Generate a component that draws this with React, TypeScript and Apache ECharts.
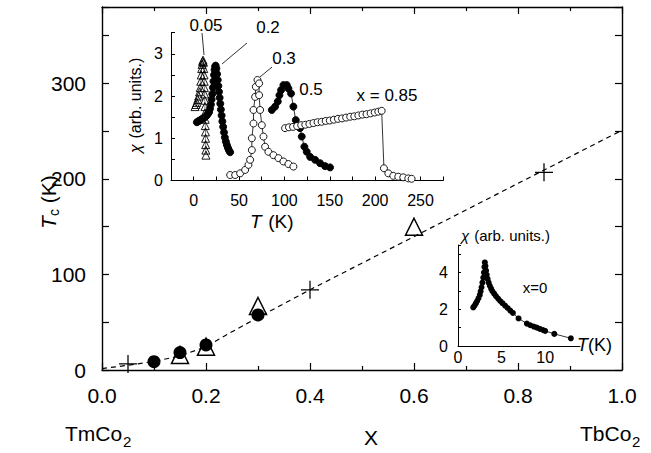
import React, { useEffect, useRef } from "react";
import * as echarts from "echarts";

// ---------- main panel data: Tc (K) versus x ----------
const fitX = [0, 0.05, 0.1, 0.15, 0.2, 0.25, 0.3, 0.4, 1.0];
const fitY = [1.5, 4.9, 9, 14.7, 24.4, 40, 55, 84, 251];
const plusX = [0.05, 0.4, 0.85];
const plusY = [6.3, 84, 207];
const triX = [0.15, 0.2, 0.3, 0.6];
const triY = [15.7, 24.4, 67, 150];
const dotX = [0.1, 0.15, 0.2, 0.3];
const dotY = [8.7, 18.2, 26.2, 57.6];
const mainXTicks = [0, 0.2, 0.4, 0.6, 0.8, 1.0];
const mainYTicks = [0, 100, 200, 300];

// ---------- upper inset: chi versus T ----------
const x005T = [1.5, 2.5, 3.5, 4.5, 5.5, 6.5, 7.2, 7.8, 8.3, 8.8, 9.3, 9.8, 10.3, 10.8, 11.1, 11.4, 11.6, 11.8, 12, 12.2, 12.4, 12.5, 12.7, 12.8, 13, 13.1, 13.2, 13.4, 13.5];
const x005C = [1.75, 1.8, 1.85, 1.92, 2.0, 2.1, 2.2, 2.35, 2.5, 2.65, 2.75, 2.82, 2.85, 2.8, 2.65, 2.5, 2.35, 2.2, 2.05, 1.9, 1.75, 1.6, 1.45, 1.3, 1.15, 1.0, 0.85, 0.72, 0.6];
const x02T = [3.5, 5, 6.5, 8, 9.5, 11, 12.5, 14, 15.5, 17, 18, 19, 19.8, 20.5, 21.2, 21.8, 22.4, 23, 23.6, 24.2, 25, 25.8, 26.5, 27.2, 27.9, 28.6, 29.3, 30, 30.8, 31.6, 32.5, 33.4, 34.4, 35.5, 36.6, 37.8, 39, 40.2];
const x02C = [1.38, 1.4, 1.42, 1.44, 1.46, 1.48, 1.5, 1.53, 1.57, 1.62, 1.7, 1.8, 1.92, 2.05, 2.2, 2.35, 2.5, 2.62, 2.7, 2.72, 2.65, 2.52, 2.38, 2.24, 2.1, 1.96, 1.82, 1.68, 1.54, 1.4, 1.27, 1.14, 1.02, 0.92, 0.84, 0.77, 0.71, 0.67];
const x03T = [40.2, 45.7, 51.2, 56.7, 60.4, 62.2, 64.1, 64.1, 65.9, 65.9, 67.7, 68.5, 70.3, 72.1, 72.1, 73.2, 75.1, 76.9, 78.7, 82.4, 87.9, 93.4, 98.9, 104.4, 109.9];
const x03C = [0.13, 0.13, 0.17, 0.25, 0.37, 0.49, 0.72, 1.0, 1.35, 1.67, 1.98, 2.22, 2.38, 2.3, 2.02, 1.67, 1.31, 1.04, 0.8, 0.68, 0.6, 0.53, 0.45, 0.39, 0.33];
const x05T = [86.1, 89.7, 92.7, 94.5, 96.3, 98.9, 102.6, 104.4, 107.3, 109.9, 112.5, 117.2, 119.1, 122, 124.6, 128.3, 133.8, 139.3, 144.8, 150.3];
const x05C = [1.67, 1.75, 1.87, 2.02, 2.14, 2.26, 2.26, 2.18, 2.06, 1.75, 1.43, 1.24, 1.04, 0.8, 0.68, 0.56, 0.49, 0.41, 0.34, 0.31];
const x085T = [100.7, 105, 109.5, 114, 118.5, 123, 127.5, 132, 136.5, 141, 145.5, 150, 154.5, 159, 163.5, 168, 172.5, 177, 181.5, 186, 190.5, 195, 199.5, 203.5, 207.2, 209.7, 214.5, 220, 225.5, 231, 236.5, 240.2];
const x085C = [1.24, 1.26, 1.27, 1.29, 1.31, 1.32, 1.34, 1.36, 1.38, 1.39, 1.41, 1.42, 1.44, 1.46, 1.47, 1.49, 1.51, 1.52, 1.54, 1.56, 1.57, 1.59, 1.61, 1.63, 1.65, 0.29, 0.17, 0.11, 0.09, 0.075, 0.05, 0.04];

// ---------- lower inset: chi versus T for x = 0 ----------
const x0T = [1.75, 1.9, 2.05, 2.2, 2.35, 2.5, 2.6, 2.7, 2.8, 2.9, 2.97, 3.03, 3.08, 3.15, 3.22, 3.3, 3.4, 3.52, 3.65, 3.8, 3.95, 4.15, 4.35, 4.6, 4.85, 5.1, 5.4, 5.7, 6.0, 6.3, 6.95, 7.9, 8.3, 8.7, 9.05, 9.4, 9.75, 10.0, 11.05, 12.95];
const x0C = [2.1, 2.2, 2.32, 2.45, 2.6, 2.78, 2.98, 3.2, 3.45, 3.72, 4.0, 4.3, 4.55, 4.35, 4.1, 3.88, 3.65, 3.45, 3.28, 3.12, 2.98, 2.85, 2.72, 2.58, 2.45, 2.33, 2.2, 2.07, 1.93, 1.8, 1.5, 1.22, 1.13, 1.06, 1.0, 0.93, 0.87, 0.82, 0.66, 0.42];

const zip = (a: number[], b: number[]) => a.map((v, i) => [v, b[i]]);

const FONT = "Liberation Sans, Arial, sans-serif";
const BLACK = "#000";
const mkLine = (w: number) => ({ show: true, onZero: false, lineStyle: { color: BLACK, width: w } });
const tickStyle = { color: BLACK, width: 1.2 };
const PLUS = "path://M0,9.3H20V10.7H0Z M9.3,0H10.7V20H9.3Z";

export default function App() {
  const ref = useRef<HTMLDivElement>(null);
  useEffect(() => {
    if (!ref.current) return;
    const chart = echarts.init(ref.current, undefined, { renderer: "svg" });
    const near = (v: number, list: number[]) => list.some((t) => Math.abs(t - v) < 1e-6);

    const insetLine = (name: string, d: number[][], symbol: string, fill: string, size: number, lw: number) => ({
      name,
      type: "line",
      xAxisIndex: 1,
      yAxisIndex: 1,
      data: d,
      symbol,
      symbolSize: size,
      showSymbol: true,
      silent: true,
      lineStyle: { color: BLACK, width: lw },
      itemStyle: { color: fill, borderColor: BLACK, borderWidth: 0.9, opacity: 1 },
      z: 5,
    });

    const option: any = {
      animation: false,
      backgroundColor: "#fff",
      textStyle: { fontFamily: FONT, color: BLACK },
      grid: [
        { left: 102, top: 7, width: 520, height: 363 },
        { left: 171, top: 32.7, width: 272.2, height: 147.8 },
        { left: 458, top: 245, width: 122, height: 101 },
        { left: 102, top: 7, width: 520, height: 363 },
      ],
      xAxis: [
        {
          gridIndex: 0, type: "value", min: 0, max: 1, interval: 0.2, position: "bottom",
          axisLine: mkLine(1.4), splitLine: { show: false },
          axisTick: { show: true, inside: true, length: 7, lineStyle: tickStyle },
          minorTick: { show: true, splitNumber: 2, length: 4, lineStyle: tickStyle },
          axisLabel: { fontSize: 21, fontFamily: FONT, color: BLACK, margin: 15,
            formatter: (v: number) => (near(v, mainXTicks) ? v.toFixed(1) : "") },
        },
        {
          gridIndex: 1, type: "value", min: -25, max: 275, interval: 25, position: "bottom",
          axisLine: mkLine(1), splitLine: { show: false },
          axisTick: { show: true, inside: true, length: 4, lineStyle: { color: BLACK, width: 1 } },
          axisLabel: { fontSize: 16, fontFamily: FONT, color: BLACK, margin: 12, showMinLabel: true, showMaxLabel: true,
            formatter: (v: number) => (v >= 0 && v <= 250 && Math.round(v) % 50 === 0 ? String(v) : "") },
        },
        {
          gridIndex: 2, type: "value", min: 0, max: 14, interval: 5, position: "bottom",
          axisLine: mkLine(1), splitLine: { show: false },
          axisTick: { show: false },
          axisLabel: { fontSize: 16, fontFamily: FONT, color: BLACK, margin: 3,
            formatter: (v: number) => (v % 5 === 0 ? String(v) : "") },
        },
        {
          gridIndex: 3, type: "value", min: 0, max: 1, interval: 0.2, position: "top",
          axisLine: mkLine(1.4), splitLine: { show: false },
          axisTick: { show: true, inside: true, length: 7, lineStyle: tickStyle },
          minorTick: { show: true, splitNumber: 2, length: 4, lineStyle: tickStyle },
          axisLabel: { show: false },
        },
      ],
      yAxis: [
        {
          gridIndex: 0, type: "value", min: 0, max: 380, interval: 50, position: "left",
          axisLine: mkLine(1.4), splitLine: { show: false },
          axisTick: { show: true, inside: true, length: 7, lineStyle: tickStyle },
          axisLabel: { fontSize: 21, fontFamily: FONT, color: BLACK, margin: 16,
            formatter: (v: number) => (near(v, mainYTicks) ? String(v) : "") },
        },
        {
          gridIndex: 1, type: "value", min: 0, max: 3.5, interval: 0.5, position: "left",
          axisLine: mkLine(1), splitLine: { show: false },
          axisTick: { show: true, inside: true, length: 4, lineStyle: { color: BLACK, width: 1 } },
          axisLabel: { fontSize: 16, fontFamily: FONT, color: BLACK, margin: 8,
            formatter: (v: number) => (Math.abs(v - Math.round(v)) < 1e-6 ? String(Math.round(v)) : "") },
        },
        {
          gridIndex: 2, type: "value", min: 0, max: 5.5, interval: 1, position: "left",
          axisLine: mkLine(1), splitLine: { show: false },
          axisTick: { show: true, inside: true, length: 3, lineStyle: { color: BLACK, width: 1 } },
          axisLabel: { fontSize: 16, fontFamily: FONT, color: BLACK, margin: 10,
            formatter: (v: number) => (Math.round(v) % 2 === 0 && Math.abs(v - Math.round(v)) < 1e-6 ? String(v) : "") },
        },
        {
          gridIndex: 3, type: "value", min: 0, max: 380, interval: 50, position: "right",
          axisLine: mkLine(1.4), splitLine: { show: false },
          axisTick: { show: true, inside: true, length: 7, lineStyle: tickStyle },
          axisLabel: { show: false },
        },
      ],
      series: [
        {
          name: "fit", type: "line", xAxisIndex: 0, yAxisIndex: 0, data: zip(fitX, fitY),
          showSymbol: false, symbol: "none", silent: true,
          lineStyle: { color: BLACK, width: 1.2, type: [5, 4] }, z: 1,
        },
        {
          name: "plus", type: "scatter", xAxisIndex: 0, yAxisIndex: 0, data: zip(plusX, plusY),
          symbol: PLUS, symbolSize: 18, silent: true, itemStyle: { color: BLACK, opacity: 1 }, z: 2,
        },
        {
          name: "triangles", type: "scatter", xAxisIndex: 0, yAxisIndex: 0, data: zip(triX, triY),
          symbol: "triangle", symbolSize: 17, silent: true,
          itemStyle: { color: "rgba(0,0,0,0)", borderColor: BLACK, borderWidth: 1.5, opacity: 1 }, z: 3,
        },
        {
          name: "dots", type: "scatter", xAxisIndex: 0, yAxisIndex: 0, data: zip(dotX, dotY),
          symbol: "circle", symbolSize: 13, silent: true, itemStyle: { color: BLACK, opacity: 1 }, z: 4,
        },
        insetLine("0.05", zip(x005T, x005C), "triangle", "rgba(0,0,0,0)", 8, 0.5),
        insetLine("0.2", zip(x02T, x02C), "circle", BLACK, 7, 0.8),
        insetLine("0.3", zip(x03T, x03C), "circle", "#fff", 7, 0.8),
        insetLine("0.5", zip(x05T, x05C), "circle", BLACK, 7, 0.8),
        insetLine("0.85", zip(x085T, x085C), "circle", "#fff", 7, 0.8),
        {
          name: "x0", type: "line", xAxisIndex: 2, yAxisIndex: 2, data: zip(x0T, x0C),
          symbol: "circle", symbolSize: 6, showSymbol: true, silent: true,
          lineStyle: { color: BLACK, width: 0.8 }, itemStyle: { color: BLACK, opacity: 1 }, z: 5,
        },
      ],
      graphic: [
        // main axis titles
        {
          type: "group", x: 48, y: 201, rotation: Math.PI / 2,
          children: [
            { type: "text", x: -28, y: 0, style: { text: "T", font: `italic 21px ${FONT}`, fill: BLACK, verticalAlign: "middle", align: "left" } },
            { type: "text", x: -15, y: 6, style: { text: "c", font: `14px ${FONT}`, fill: BLACK, verticalAlign: "middle", align: "left" } },
            { type: "text", x: -8, y: 0, style: { text: " (K)", font: `21px ${FONT}`, fill: BLACK, verticalAlign: "middle", align: "left" } },
          ],
        },
        { type: "text", x: 371, y: 437, style: { text: "X", font: `21px ${FONT}`, fill: BLACK, align: "center", verticalAlign: "middle" } },
        { type: "text", x: 65, y: 433, style: { text: "TmCo", font: `21px ${FONT}`, fill: BLACK, align: "left", verticalAlign: "middle" } },
        { type: "text", x: 123, y: 441, style: { text: "2", font: `15px ${FONT}`, fill: BLACK, align: "left", verticalAlign: "middle" } },
        { type: "text", x: 580, y: 433, style: { text: "TbCo", font: `21px ${FONT}`, fill: BLACK, align: "left", verticalAlign: "middle" } },
        { type: "text", x: 632, y: 441, style: { text: "2", font: `15px ${FONT}`, fill: BLACK, align: "left", verticalAlign: "middle" } },
        // upper inset titles
        {
          type: "group", x: 135, y: 106, rotation: Math.PI / 2,
          children: [
            { type: "text", x: -47, y: 0, style: { text: "χ", font: `italic 16px ${FONT}`, fill: BLACK, verticalAlign: "middle", align: "left" } },
            { type: "text", x: -37, y: 0, style: { text: " (arb. units.)", font: `16px ${FONT}`, fill: BLACK, verticalAlign: "middle", align: "left" } },
          ],
        },
        { type: "text", x: 250, y: 221, style: { text: "T", font: `italic 19px ${FONT}`, fill: BLACK, align: "left", verticalAlign: "middle" } },
        { type: "text", x: 263, y: 221, style: { text: " (K)", font: `19px ${FONT}`, fill: BLACK, align: "left", verticalAlign: "middle" } },
        // upper inset curve labels
        { type: "text", x: 206, y: 25, style: { text: "0.05", font: `17px ${FONT}`, fill: BLACK, align: "center", verticalAlign: "middle" } },
        { type: "text", x: 268, y: 27, style: { text: "0.2", font: `17px ${FONT}`, fill: BLACK, align: "center", verticalAlign: "middle" } },
        { type: "text", x: 284, y: 58, style: { text: "0.3", font: `17px ${FONT}`, fill: BLACK, align: "center", verticalAlign: "middle" } },
        { type: "text", x: 311, y: 89, style: { text: "0.5", font: `17px ${FONT}`, fill: BLACK, align: "center", verticalAlign: "middle" } },
        { type: "text", x: 387, y: 95, style: { text: "x = 0.85", font: `17px ${FONT}`, fill: BLACK, align: "center", verticalAlign: "middle" } },
        { type: "line", shape: { x1: 202, y1: 33, x2: 204, y2: 55 }, style: { stroke: BLACK, lineWidth: 0.8 } },
        { type: "line", shape: { x1: 247, y1: 43, x2: 222, y2: 64 }, style: { stroke: BLACK, lineWidth: 0.8 } },
        { type: "line", shape: { x1: 272, y1: 67, x2: 260, y2: 77 }, style: { stroke: BLACK, lineWidth: 0.8 } },
        // lower inset titles
        { type: "text", x: 461, y: 235, style: { text: "χ", font: `italic 15px ${FONT}`, fill: BLACK, align: "left", verticalAlign: "middle" } },
        { type: "text", x: 470, y: 235, style: { text: " (arb. units.)", font: `15px ${FONT}`, fill: BLACK, align: "left", verticalAlign: "middle" } },
        { type: "text", x: 535, y: 287, style: { text: "x=0", font: `15px ${FONT}`, fill: BLACK, align: "center", verticalAlign: "middle" } },
        { type: "text", x: 577, y: 345, style: { text: "T", font: `italic 18px ${FONT}`, fill: BLACK, align: "left", verticalAlign: "middle" } },
        { type: "text", x: 588, y: 345, style: { text: "(K)", font: `18px ${FONT}`, fill: BLACK, align: "left", verticalAlign: "middle" } },
      ],
    };
    chart.setOption(option);
    return () => chart.dispose();
  }, []);
  return (
    <div
      ref={ref}
      style={{ position: "fixed", left: 0, top: 0, width: 651, height: 453, background: "#fff" }}
    />
  );
}
